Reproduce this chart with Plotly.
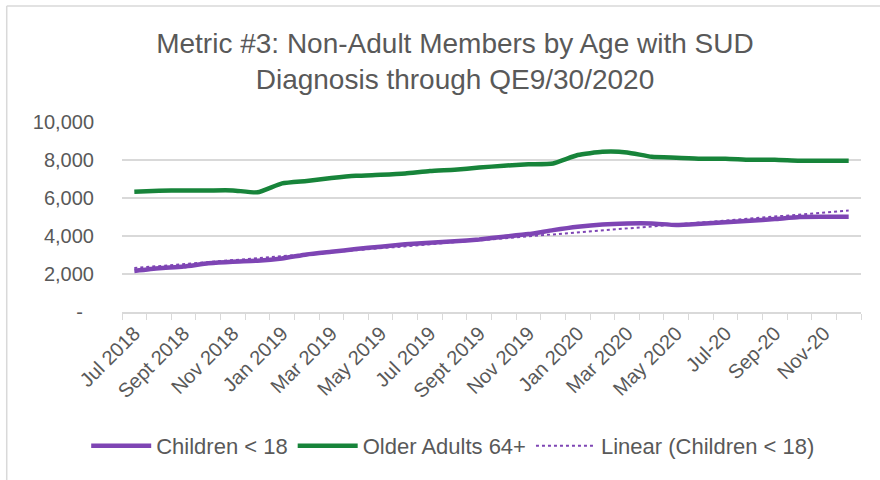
import plotly.graph_objects as go
import numpy as np

# months shown on the category axis (Jul 2018 - Dec 2020)
months = [
    "Jul 2018", "Aug 2018", "Sept 2018", "Oct 2018", "Nov 2018", "Dec 2018",
    "Jan 2019", "Feb 2019", "Mar 2019", "Apr 2019", "May 2019", "Jun 2019",
    "Jul 2019", "Aug 2019", "Sept 2019", "Oct 2019", "Nov 2019", "Dec 2019",
    "Jan 2020", "Feb 2020", "Mar 2020", "Apr 2020", "May 2020", "Jun 2020",
    "Jul-20", "Aug-20", "Sep-20", "Oct-20", "Nov-20", "Dec-20",
]

children = [
    2160, 2300, 2390, 2560, 2650, 2700, 2820, 3030, 3170, 3310,
    3440, 3560, 3650, 3720, 3820, 3960, 4100, 4310, 4490, 4610,
    4660, 4660, 4580, 4650, 4730, 4800, 4890, 5000, 5010, 5010,
]

older_adults = [
    6330, 6380, 6400, 6400, 6400, 6300, 6770, 6900, 7050, 7170,
    7220, 7290, 7420, 7490, 7600, 7700, 7770, 7820, 8260, 8430,
    8400, 8170, 8120, 8070, 8070, 8010, 8010, 7960, 7960, 7960,
]

y_ticks = [0, 2000, 4000, 6000, 8000, 10000]
y_labels = ["-\u00a0\u00a0", "2,000", "4,000", "6,000", "8,000", "10,000"]

PURPLE = "#7E45B4"
GREEN = "#17843A"
GREY = "#595959"
FONT = "Liberation Sans, Arial, sans-serif"

idx = np.arange(len(months))
# Excel-style linear trendline of the children series
slope, intercept = np.polyfit(idx, children, 1)
trend = slope * idx + intercept

fig = go.Figure()
fig.add_trace(go.Scatter(
    x=idx, y=children, name="Children < 18", mode="lines",
    line=dict(color=PURPLE, width=4.5, shape="spline", smoothing=0.5),
))
fig.add_trace(go.Scatter(
    x=idx, y=older_adults, name="Older Adults 64+", mode="lines",
    line=dict(color=GREEN, width=4.5, shape="spline", smoothing=0.5),
))
fig.add_trace(go.Scatter(
    x=idx, y=trend, name="Linear (Children < 18)", mode="lines",
    line=dict(color=PURPLE, width=2, dash="dot"),
))

fig.update_layout(
    width=880, height=480,
    margin=dict(l=122, r=19, t=122, b=168),
    paper_bgcolor="white", plot_bgcolor="white",
    font=dict(family=FONT, color=GREY, size=20),
    title=dict(
        text="Metric #3: Non-Adult Members by Age with SUD<br>Diagnosis through QE9/30/2020",
        x=0.517, xanchor="center", xref="container",
        y=1 - 53 / 480, yanchor="top", yref="container",
        font=dict(size=28, color=GREY, family=FONT),
    ),
    showlegend=True,
    legend=dict(
        orientation="h", x=0.515, xanchor="center", xref="container",
        y=0.027, yanchor="bottom", yref="container",
        font=dict(size=22, color=GREY), itemwidth=60,
    ),
    shapes=[
        dict(type="line", xref="paper", yref="paper", x0=-0.156, x1=1.03, y0=1.61, y1=1.61,
             line=dict(color="#D9D9D9", width=1.5)),
        dict(type="line", xref="paper", yref="paper", x0=-0.156, x1=-0.156, y0=1.61, y1=-0.9,
             line=dict(color="#D9D9D9", width=1.5)),
    ],
)

fig.update_xaxes(
    range=[-0.5, len(months) - 0.5],
    tickvals=idx[::2], ticktext=months[::2],
    tickangle=-45, ticks="", showgrid=False,
    showline=True, linecolor="#D9D9D9", linewidth=1.5,
    minor=dict(tick0=-0.5, dtick=1, ticks="outside", ticklen=6, tickcolor="#D9D9D9", showgrid=False),
    tickfont=dict(size=20, color=GREY),
    zeroline=False, automargin=False,
)
fig.update_yaxes(
    range=[0, 10000],
    tickvals=y_ticks, ticktext=y_labels,
    showgrid=True, gridcolor="#D9D9D9", gridwidth=1.5,
    zeroline=False, ticks="", ticklabelstandoff=27,
    tickfont=dict(size=20, color=GREY), automargin=False,
)

fig.write_html(
    "out.html",
    config={"displayModeBar": False},
    post_script="document.body.style.margin='0';",
)
